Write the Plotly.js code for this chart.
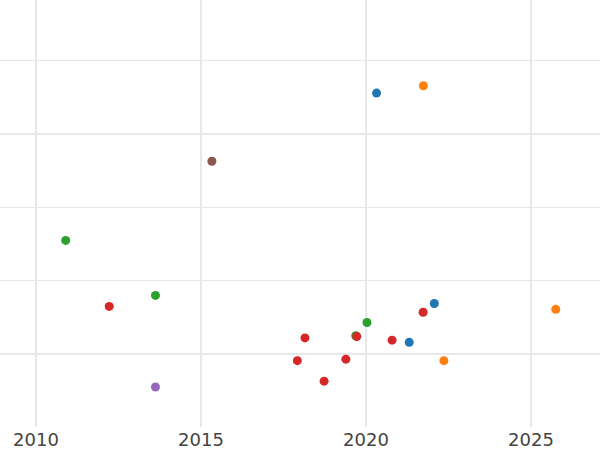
<!DOCTYPE html>
<html>
<head>
<meta charset="utf-8">
<script src="https://cdn.plot.ly/plotly-3.0.1.min.js"></script>
<style>html,body{margin:0;padding:0;background:#fff}#chart{width:600px;height:450px}</style>
</head>
<body>
<div id="chart"></div>
<script>
// Series values (x = year, y = value)
var blueX = [2020.32, 2022.07, 2021.31];
var blueY = [3.56, 0.69, 0.16];
var orangeX = [2021.74, 2025.75, 2022.36];
var orangeY = [3.66, 0.61, -0.09];
var greenX = [2010.90, 2013.62, 2020.03, 2019.69];
var greenY = [1.55, 0.80, 0.43, 0.25];
var redX = [2012.22, 2018.15, 2017.92, 2018.73, 2019.39, 2019.72, 2020.79, 2021.73];
var redY = [0.65, 0.22, -0.09, -0.37, -0.07, 0.24, 0.19, 0.57];
var purpleX = [2013.62];
var purpleY = [-0.45];
var brownX = [2015.33];
var brownY = [2.63];
var tickYears = [2010, 2015, 2020, 2025];

var colors = ['#1f77b4', '#ff7f0e', '#2ca02c', '#d62728', '#9467bd', '#8c564b'];
var xs = [blueX, orangeX, greenX, redX, purpleX, brownX];
var ys = [blueY, orangeY, greenY, redY, purpleY, brownY];
var data = xs.map(function (x, i) {
  return {type: 'scatter', mode: 'markers', x: x, y: ys[i],
    marker: {color: colors[i], size: 9}, showlegend: false};
});
var grid = '#e8e8e8';
var layout = {
  width: 600, height: 450,
  margin: {l: 0, r: 0, t: 0, b: 23, pad: 0},
  paper_bgcolor: '#fff', plot_bgcolor: '#fff',
  showlegend: false,
  font: {family: 'DejaVu Sans', size: 18, color: '#444'},
  xaxis: {range: [2008.909, 2027.091], tickvals: tickYears, ticktext: tickYears.map(String),
    showgrid: true, gridcolor: grid, gridwidth: 2, zeroline: false, showline: false,
    ticks: '', automargin: false, tickfont: {family: 'DejaVu Sans', size: 18, color: '#444'}},
  yaxis: {range: [-0.995, 4.83], tick0: 0, dtick: 3, showgrid: true, gridcolor: grid, gridwidth: 2,
    minor: {dtick: 1, tick0: 0, showgrid: true, gridcolor: grid, gridwidth: 1},
    showticklabels: false, zeroline: false, showline: false, ticks: '', automargin: false}
};
Plotly.newPlot('chart', data, layout, {staticPlot: true, displayModeBar: false});
</script>
</body>
</html>
